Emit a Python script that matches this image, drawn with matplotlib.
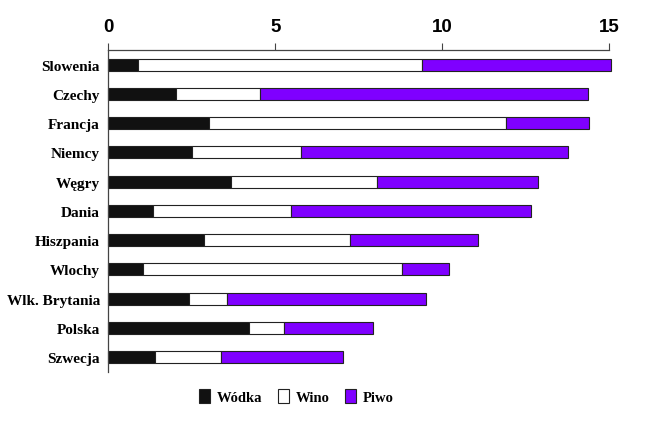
import numpy as np
import matplotlib
matplotlib.use("Agg")
import matplotlib.pyplot as plt
from matplotlib.patches import Patch

# spożycie alkoholu wg rodzaju (litry czystego alkoholu)
kraje = ['Slowenia', 'Czechy', 'Francja', 'Niemcy', 'Węgry', 'Dania',
         'Hiszpania', 'Wlochy', 'Wlk. Brytania', 'Polska', 'Szwecja']
wodka = [0.90, 2.03, 3.01, 2.51, 3.66, 1.35, 2.87, 1.04, 2.43, 4.22, 1.41]
wino = [8.50, 2.51, 8.90, 3.26, 4.38, 4.11, 4.37, 7.74, 1.12, 1.04, 1.96]
piwo = [5.65, 9.81, 2.47, 8.00, 4.83, 7.19, 3.82, 1.42, 5.96, 2.66, 3.67]
ticks = [0, 5, 10, 15]

kolory = ['#111111', '#ffffff', '#7f00ff']
serif = 'Liberation Serif'

fig = plt.figure(figsize=(6.54, 4.27), dpi=100)
ax = fig.add_axes([0.1656, 0.127, 0.766, 0.7536])

y = np.arange(len(kraje))
left = np.zeros(len(kraje))
for vals, c in zip([wodka, wino, piwo], kolory):
    ax.barh(y, vals, left=left, height=0.41, color=c,
            edgecolor='#222222', linewidth=0.8, clip_on=False)
    left += np.array(vals)

ax.set_xlim(0, 15)
ax.set_ylim(len(kraje) - 0.5, -0.5)
ax.set_yticks(y)
ax.set_yticklabels(kraje, fontfamily=serif, fontweight='bold', fontsize=11)
ax.tick_params(axis='y', length=0, pad=6)

ax.xaxis.tick_top()
ax.set_xticks(ticks)
ax.set_xticklabels([str(t) for t in ticks], fontfamily='Liberation Sans',
                   fontweight='bold', fontsize=13.5)
ax.tick_params(axis='x', direction='out', length=5, width=0.8,
               color='#444444', pad=5.5)

for s in ['right', 'bottom']:
    ax.spines[s].set_visible(False)
for s in ['top', 'left']:
    ax.spines[s].set_color('#444444')
    ax.spines[s].set_linewidth(0.9)

handles = [Patch(facecolor=c, edgecolor='#222222', linewidth=0.8) for c in kolory]
fig.legend(handles, ['Wódka', 'Wino', 'Piwo'], loc='center',
           bbox_to_anchor=(0.453, 0.07), ncol=3, frameon=False,
           handlelength=0.75, handleheight=1.15, handletextpad=0.45,
           columnspacing=1.1,
           prop={'family': serif, 'weight': 'bold', 'size': 10.5})

fig.savefig('out.png', dpi=100)
